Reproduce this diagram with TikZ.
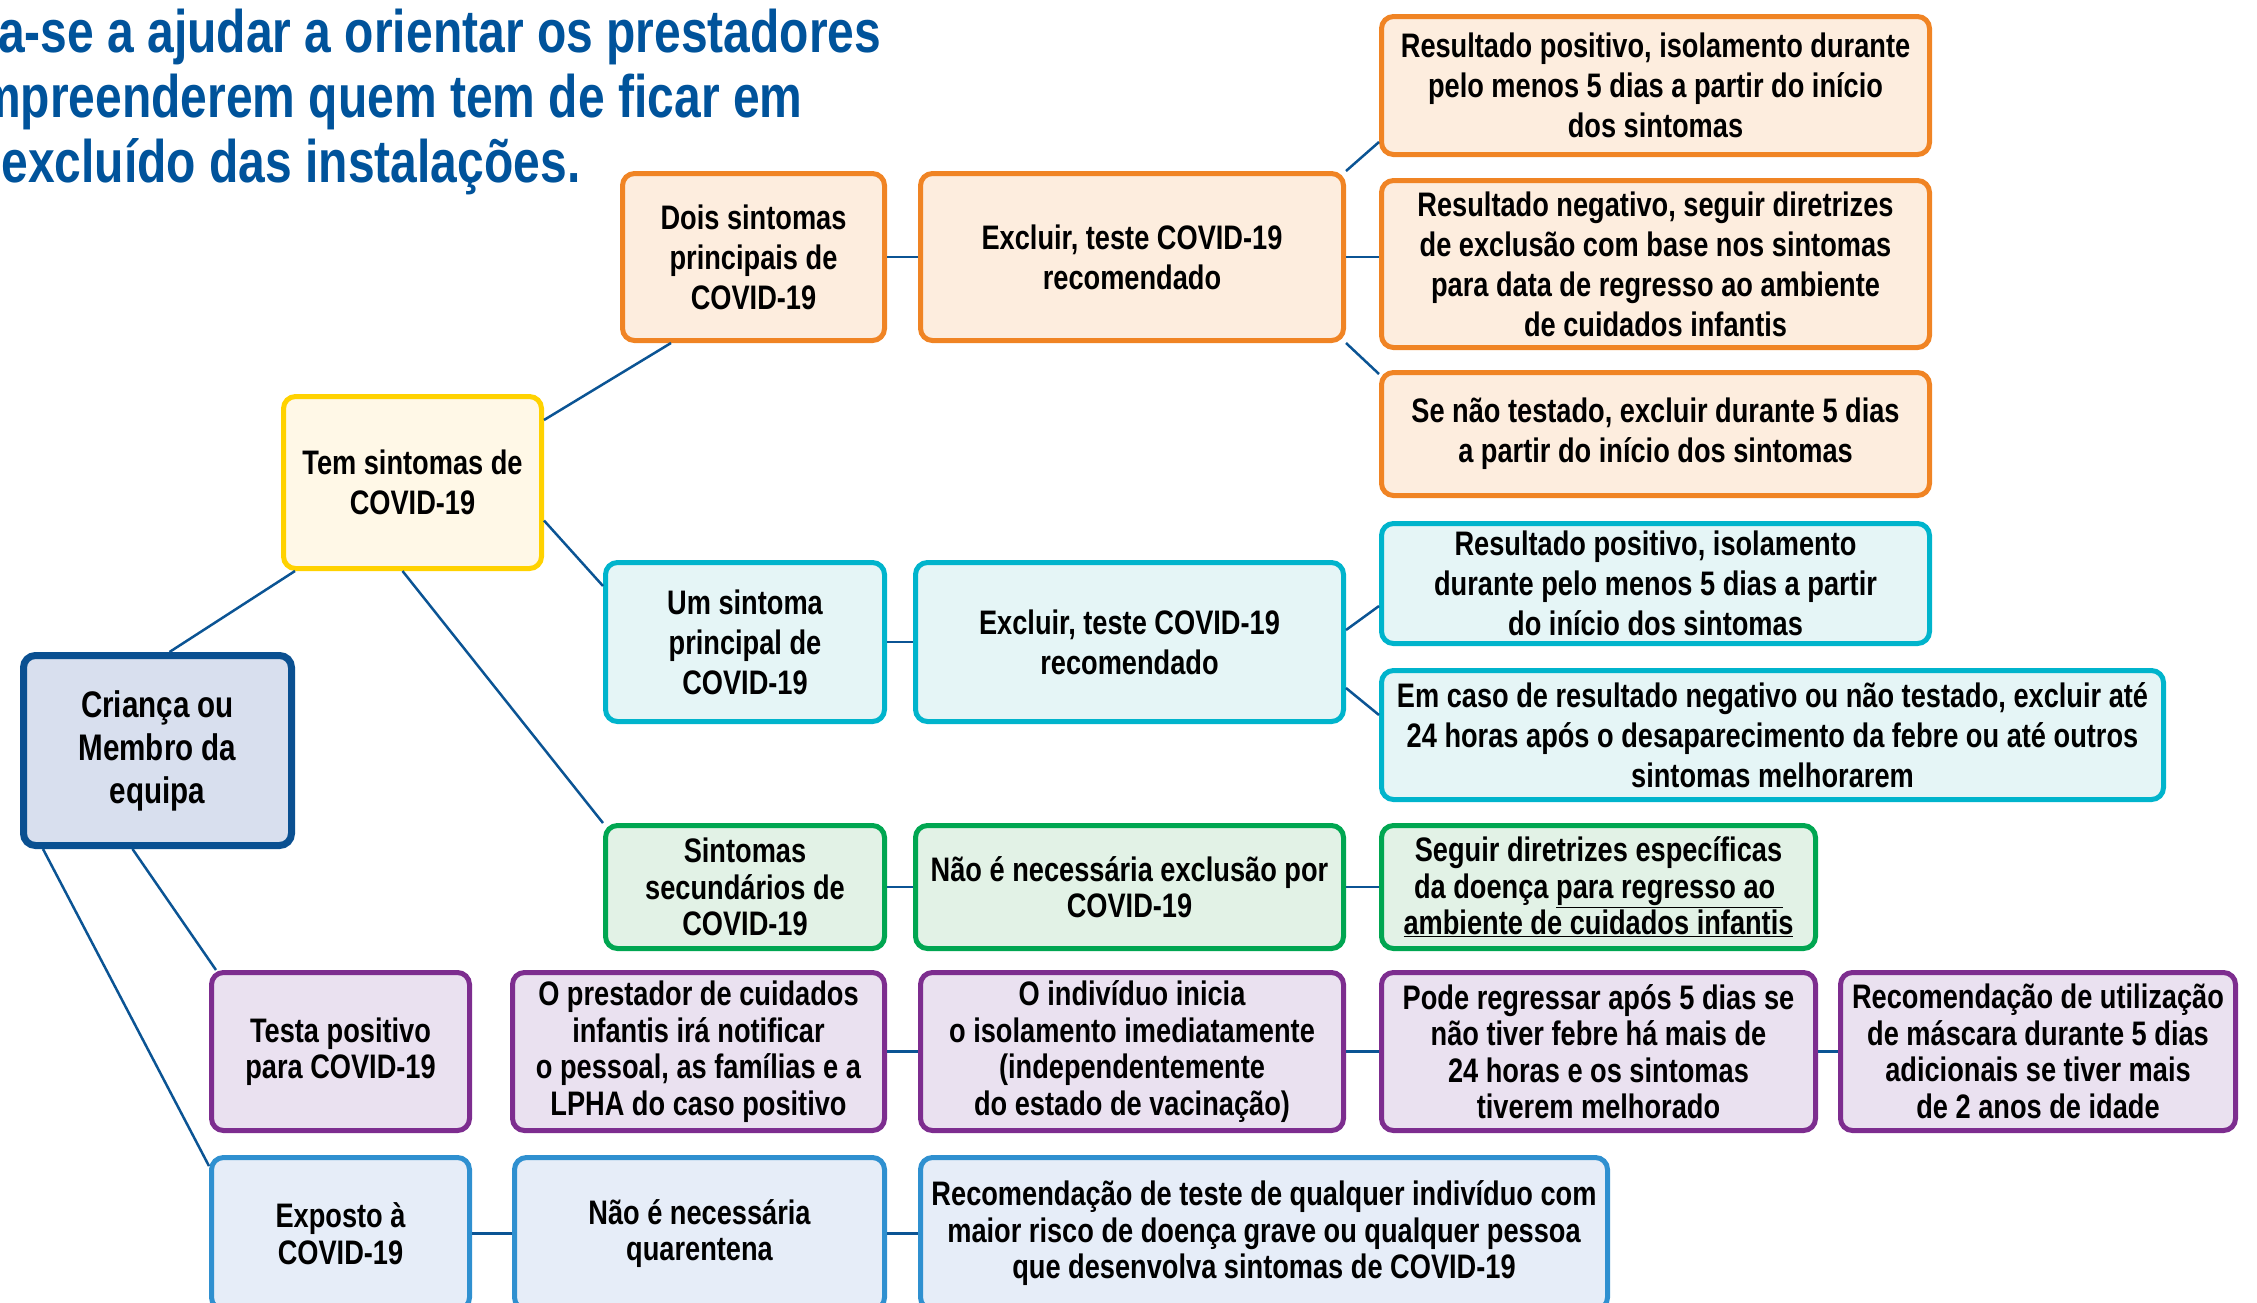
\documentclass[tikz,border=0pt]{standalone}
\usepackage{fontspec}
\setmainfont{Liberation Sans}[FakeStretch=0.8]
\usepackage{tikz}
\usetikzlibrary{positioning}

\definecolor{linkblue}{RGB}{11,84,148}
\definecolor{titleblue}{RGB}{0,83,155}
\definecolor{orangeline}{RGB}{240,132,36}
\definecolor{orangefill}{RGB}{253,237,222}
\definecolor{yellowline}{RGB}{255,210,0}
\definecolor{yellowfill}{RGB}{255,248,231}
\definecolor{tealline}{RGB}{0,180,204}
\definecolor{tealfill}{RGB}{229,245,246}
\definecolor{greenline}{RGB}{0,166,81}
\definecolor{greenfill}{RGB}{226,242,230}
\definecolor{purpleline}{RGB}{125,45,143}
\definecolor{purplefill}{RGB}{234,225,240}
\definecolor{skyline}{RGB}{47,144,208}
\definecolor{skyfill}{RGB}{230,237,248}
\definecolor{rootline}{RGB}{10,80,145}
\definecolor{rootfill}{RGB}{216,223,238}

\tikzset{
  box/.style={draw,rounded corners=12pt,line width=5pt,align=center,inner sep=0pt,
    font=\bfseries\fontsize{34}{40}\selectfont},
  tight/.style={font=\bfseries\fontsize{34}{36.5}\selectfont},
  obox/.style={box,draw=orangeline,fill=orangefill},
  ybox/.style={box,draw=yellowline,fill=yellowfill},
  tbox/.style={box,draw=tealline,fill=tealfill},
  gbox/.style={box,tight,draw=greenline,fill=greenfill},
  pbox/.style={box,tight,draw=purpleline,fill=purplefill},
  sbox/.style={box,tight,draw=skyline,fill=skyfill},
  rootbox/.style={box,line width=7pt,draw=rootline,fill=rootfill,
    font=\bfseries\fontsize{37}{43}\selectfont},
  titleline/.style={anchor=west,inner sep=0pt,text=titleblue,
    font=\bfseries\fontsize{60}{65}\selectfont},
  link/.style={draw=linkblue,line width=2.5pt},
}

\begin{document}
\begin{tikzpicture}[x=1pt,y=-1pt]
\useasboundingbox (0,0) rectangle (2257,1302);

\node (title1) at (-2,37)[titleline] {a-se a ajudar a orientar os prestadores};
\node (title2) at (-22,102)[titleline] {mpreenderem quem tem de ficar em};
\node (title3) at (-12,167)[titleline] {\ excluído das instalações.};

\node (crianca) at (157.5,750.5)[rootbox,minimum width=268pt,minimum height=190pt] {Criança ou\\Membro da\\equipa};
\node (tem) at (412.5,482.5)[ybox,minimum width=258pt,minimum height=172pt] {Tem sintomas de\\COVID-19};

\node (dois) at (753.5,257)[obox,minimum width=262pt,minimum height=167pt] {Dois sintomas\\principais de\\COVID-19};
\node (excl1) at (1132,257)[obox,minimum width=423pt,minimum height=167pt] {Excluir, teste COVID-19\\recomendado};
\node (rpos1) at (1655.5,85.5)[obox,minimum width=548pt,minimum height=138pt] {Resultado positivo, isolamento durante\\pelo menos 5 dias a partir do início\\dos sintomas};
\node (rneg1) at (1655.5,264)[obox,minimum width=548pt,minimum height=167pt] {Resultado negativo, seguir diretrizes\\de exclusão com base nos sintomas\\para data de regresso ao ambiente\\de cuidados infantis};
\node (snt) at (1655.5,434)[obox,minimum width=548pt,minimum height=123pt] {Se não testado, excluir durante 5 dias\\a partir do início dos sintomas};

\node (um) at (745,642)[tbox,minimum width=279pt,minimum height=159pt] {Um sintoma\\principal de\\COVID-19};
\node (excl2) at (1129.5,642)[tbox,minimum width=428pt,minimum height=159pt] {Excluir, teste COVID-19\\recomendado};
\node (rpos2) at (1655.5,583.5)[tbox,minimum width=548pt,minimum height=120pt] {Resultado positivo, isolamento\\durante pelo menos 5 dias a partir\\do início dos sintomas};
\node (emcaso) at (1772.5,735)[tbox,minimum width=782pt,minimum height=129pt] {Em caso de resultado negativo ou não testado, excluir até\\24 horas após o desaparecimento da febre ou até outros\\sintomas melhorarem};

\node (sec) at (745,887)[gbox,minimum width=279pt,minimum height=123pt] {Sintomas\\secundários de\\COVID-19};
\node (naoexc) at (1129.5,887)[gbox,minimum width=428pt,minimum height=123pt] {Não é necessária exclusão por\\COVID-19};
\node (seguir) at (1598.5,887)[gbox,minimum width=434pt,minimum height=123pt] {Seguir diretrizes específicas\\da doença \underline{para regresso ao\ }\\\underline{ambiente de cuidados infantis}};

\node (testa) at (340.5,1051.5)[pbox,minimum width=258pt,minimum height=158pt] {Testa positivo\\para COVID-19};
\node (prest) at (698.5,1051.5)[pbox,minimum width=372pt,minimum height=158pt] {O prestador de cuidados\\infantis irá notificar\\o pessoal, as famílias e a\\LPHA do caso positivo};
\node (indiv) at (1132,1051.5)[pbox,minimum width=423pt,minimum height=158pt] {O indivíduo inicia\\o isolamento imediatamente\\(independentemente\\do estado de vacinação)};
\node (pode) at (1598.5,1051.5)[pbox,minimum width=434pt,minimum height=158pt] {Pode regressar após 5 dias se\\não tiver febre há mais de\\24 horas e os sintomas\\tiverem melhorado};
\node (masc) at (2038,1051.5)[pbox,minimum width=395pt,minimum height=158pt] {Recomendação de utilização\\de máscara durante 5 dias\\adicionais se tiver mais\\de 2 anos de idade};

\node (expo) at (340.5,1233.5)[sbox,minimum width=258pt,minimum height=152pt] {Exposto à\\COVID-19};
\node (quar) at (699.5,1233.5)[sbox,minimum width=370pt,minimum height=152pt] {Não é necessária\\quarentena};
\node (recteste) at (1264,1233.5)[sbox,minimum width=687pt,minimum height=152pt] {Recomendação de teste de qualquer indivíduo com\\maior risco de doença grave ou qualquer pessoa\\que desenvolva sintomas de COVID-19};

% branches from the root
\draw [link] ([xshift=12pt]crianca.north) to ([xshift=14pt]tem.south west);
\draw [link] ([xshift=-25pt]crianca.south) to ([xshift=7pt]testa.north west);
\draw [link] ([xshift=23pt]crianca.south west) to ([yshift=-11pt]expo.north west);

% symptom branches
\draw [link] ([yshift=-26pt]tem.north east) to ([xshift=51pt]dois.south west);
\draw [link] ([yshift=-38pt]tem.east) to ([yshift=-26pt]um.north west);
\draw [link] ([xshift=-10pt]tem.south) to (sec.north west);

\draw [link] (dois) to (excl1);
\draw [link] (excl1.north east) to ([yshift=15pt]rpos1.south west);
\draw [link] (excl1) to (rneg1.west |- excl1.east);
\draw [link] (excl1.south east) to ([yshift=-4pt]snt.north west);

\draw [link] (um) to (excl2);
\draw [link] ([yshift=12pt]excl2.east) to ([yshift=40pt]rpos2.south west);
\draw [link] ([yshift=-46pt]excl2.east) to ([yshift=-47pt]emcaso.north west);

\draw [link] (sec) to (naoexc);
\draw [link] (naoexc) to (seguir);

% positive test and exposure rows
\draw [link] (prest) to (indiv);
\draw [link] (indiv) to (pode);
\draw [link] (pode) to (masc);
\draw [link] (expo) to (quar);
\draw [link] (quar) to (recteste);
\end{tikzpicture}
\end{document}
